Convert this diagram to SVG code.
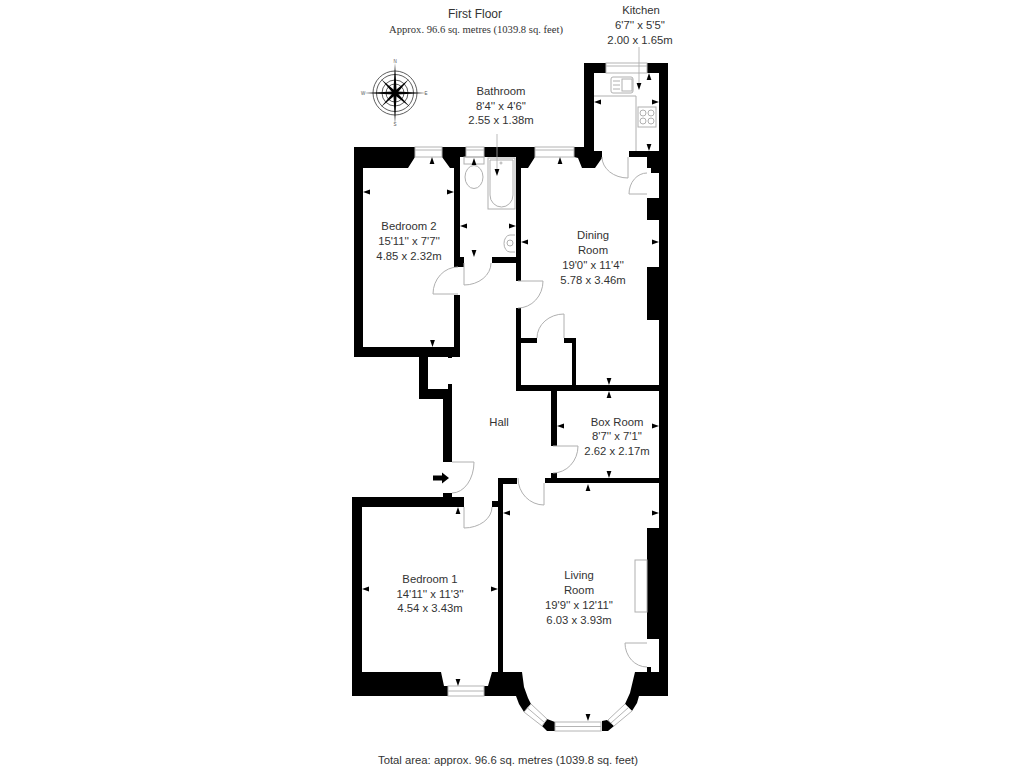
<svg xmlns="http://www.w3.org/2000/svg" xmlns:xlink="http://www.w3.org/1999/xlink" width="1024" height="768" viewBox="0 0 1024 768">
<style>
.l{font-family:"Liberation Sans",Arial,sans-serif;font-size:11.3px;fill:#333;text-anchor:middle}
.t{font-size:12px}
.s{font-family:"Liberation Serif","Times New Roman",serif;font-size:10.6px;fill:#333;text-anchor:middle}
.c{font-family:"Liberation Sans",Arial,sans-serif;font-size:4.5px;fill:#555;text-anchor:middle}
.w{fill:#000}
.g{fill:none;stroke:#b0b0b0;stroke-width:1}
.d{fill:#fff;stroke:#b4b4b4;stroke-width:1}
.k{fill:none;stroke:#333;stroke-width:.8}
.dim{stroke:#aaa;stroke-width:.8;fill:none}
</style>
<defs>
<polygon id="t" points="0,0 2.4,7 -2.4,7" fill="#000"/>
</defs>
<rect width="1024" height="768" fill="#fff"/>

<g id="walls" class="w">
<polygon points="354,147 415,147 415,157 408,168 363,168 363,347 454,347 454,295 460,295 460,357 354,357"/>
<polygon points="442,147 466,147 466,157 460,157 460,257 464,257 464,267 454,267 454,168 450,168 442,157"/>
<polygon points="484,147 535,147 535,157 528,168 521,168 521,281 516,281 516,157 484,157"/>
<rect x="492" y="257" width="24" height="6"/>
<polygon points="584,63 606,63 606,73 594,73 594,151 602,151 602,158 595,168 582,168 578,158 574,157 574,147 584,147"/>
<polygon points="647,63 668,63 668,696 635,696 635,672 647,672 647,667 651,667 651,672 659,672 659,639 647,639 647,528 659,528 659,320 647,320 647,267 659,267 659,220 647,220 647,198 659,198 659,173 651,173 651,168 647,168 647,157 629,157 629,151 659,151 659,73 647,73"/>
<polygon points="516,308 521,308 521,338 537,338 537,343 521,343 521,385 572,385 572,343 564,343 564,338 576,338 576,385 659,385 659,391 557,391 557,446 551,446 551,391 516,391"/>
<polygon points="419,357 428,357 428,389 448,389 448,384 452,384 452,462 443,462 443,399 419,399"/>
<rect x="448" y="353" width="4" height="5"/>
<polygon points="352,497 443,497 443,493 452,493 452,497 464,497 464,507 362,507 362,672 441,672 444,686 448,686 448,696 352,696"/>
<rect x="492" y="501" width="6" height="6"/>
<polygon points="498,478 517,478 517,484 503,484 503,672 522,672 524,687 528,698 531,704 524,712 519,704 516,696 484,696 484,686 488,686 492,672 498,672"/>
<rect x="545" y="478" width="114" height="5"/>
<rect x="551" y="473" width="6" height="5"/>
<polygon points="547,719 555,722 555,731 547,731 542,726"/>
<polygon points="602,721 607,720 614,726 608,731 602,731"/>
<polygon points="625,704 630,693 635,672 639,696 637,703 632,711"/>
</g>

<g id="windows" class="d">
<rect x="415" y="147" width="27" height="10"/><line x1="415" y1="150" x2="442" y2="150"/>
<rect x="466" y="147" width="18" height="10"/><line x1="466" y1="150" x2="484" y2="150"/>
<rect x="535" y="147" width="39" height="10"/><line x1="535" y1="150" x2="574" y2="150"/>
<rect x="606" y="63" width="41" height="10"/><line x1="606" y1="66" x2="647" y2="66"/>
<rect x="448" y="686" width="36" height="10"/><line x1="448" y1="691" x2="484" y2="691"/>
<rect x="555" y="722" width="46" height="9"/><line x1="555" y1="726.5" x2="601" y2="726.5"/>
<polygon points="531,704 524,712 542,726 547,719"/><line x1="527.5" y1="708" x2="544.5" y2="722.5"/>
<polygon points="608,720 614,726 632,711 625,704"/><line x1="611" y1="723" x2="628.5" y2="707.5"/>
</g>

<g id="doors" class="g">
<path d="M458,294H433A25,27 0 0 1 458,267"/>
<path d="M464,263V285A27,22 0 0 0 491,263"/>
<path d="M518,281H543A25,27 0 0 1 518,308"/>
<path d="M564,338V314A27,24 0 0 0 537,338"/>
<path d="M628,157V178A26,21 0 0 1 602,157"/>
<path d="M647,194H629A18,21 0 0 1 647,173"/>
<path d="M452,462H474A22,31 0 0 1 452,493"/>
<path d="M464,507V528A28,21 0 0 0 492,507"/>
<path d="M544,483V505A26,27 0 0 1 518,478"/>
<path d="M553,446H578A25,27 0 0 1 553,473"/>
<path d="M647,643H625A22,24 0 0 0 647,667"/>
<rect x="635" y="560" width="12" height="52"/>
</g>

<g id="fixtures" class="g">
<path d="M594,96H636V151"/>
<rect x="611" y="77" width="22" height="16" rx="2"/>
<rect x="622" y="79" width="10" height="12"/>
<path d="M613,81H620M613,85H620M613,89H620"/>
<rect x="638" y="107" width="18" height="20"/>
<circle cx="643" cy="113" r="3"/><circle cx="651" cy="113" r="3"/><circle cx="643" cy="121" r="3"/><circle cx="651" cy="121" r="3"/>
<rect x="464" y="157" width="20" height="7"/>
<ellipse cx="474" cy="177" rx="9" ry="11.5"/>
<rect x="488" y="158" width="27" height="51"/>
<path d="M490,160H513V195A11.5,12 0 0 1 490,195Z"/>
<circle cx="501" cy="163" r="1"/>
<path d="M515,235H510A6,8.5 0 0 0 510,252H515"/>
<circle cx="510" cy="243" r="3"/>
</g>

<g id="compass">
<g class="k">
<circle cx="395" cy="93" r="22"/>
<circle cx="395" cy="93" r="18.5"/>
<circle cx="395" cy="93" r="13"/>
<circle cx="395" cy="93" r="9"/>
</g>
<polygon points="395,63 396.6,91.4 426,93 396.6,94.6 395,124 393.4,94.6 364,93 393.4,91.4" fill="#000"/>
<polygon points="381,79 396.5,92 410,107 394,94.5" fill="#000"/>
<polygon points="409,79 396.5,94 381,107 393.8,91.8" fill="#000"/>
<text class="c" x="395" y="63">N</text>
<text class="c" x="395" y="126">S</text>
<text class="c" x="363" y="95">W</text>
<text class="c" x="426" y="95">E</text>
</g>

<g id="entrance-arrow">
<polygon points="433,475.5 442,475.5 442,472.5 449,478 442,483.5 442,480.5 433,480.5" fill="#000"/>
</g>

<g id="connectors">
<line class="dim" x1="639" y1="47" x2="639" y2="84"/>
<line class="dim" x1="497" y1="134" x2="497" y2="170"/>
<use xlink:href="#t" href="#t" transform="translate(639,90) rotate(180)"/>
<use xlink:href="#t" href="#t" transform="translate(497,176) rotate(180)"/>
<use xlink:href="#t" href="#t" transform="translate(432,157)"/>
<use xlink:href="#t" href="#t" transform="translate(474,158)"/>
<use xlink:href="#t" href="#t" transform="translate(560,157)"/>
<use xlink:href="#t" href="#t" transform="translate(649,73)"/>
<use xlink:href="#t" href="#t" transform="translate(609,391)"/>
<use xlink:href="#t" href="#t" transform="translate(588,484)"/>
<use xlink:href="#t" href="#t" transform="translate(458,507)"/>
<use xlink:href="#t" href="#t" transform="translate(432.5,347) rotate(180)"/>
<use xlink:href="#t" href="#t" transform="translate(474,257) rotate(180)"/>
<use xlink:href="#t" href="#t" transform="translate(609,385) rotate(180)"/>
<use xlink:href="#t" href="#t" transform="translate(609,478) rotate(180)"/>
<use xlink:href="#t" href="#t" transform="translate(458,686) rotate(180)"/>
<use xlink:href="#t" href="#t" transform="translate(588,721) rotate(180)"/>
<use xlink:href="#t" href="#t" transform="translate(649,151) rotate(180)"/>
<use xlink:href="#t" href="#t" transform="translate(363,192) rotate(-90)"/>
<use xlink:href="#t" href="#t" transform="translate(460,226) rotate(-90)"/>
<use xlink:href="#t" href="#t" transform="translate(521,242) rotate(-90)"/>
<use xlink:href="#t" href="#t" transform="translate(557,426) rotate(-90)"/>
<use xlink:href="#t" href="#t" transform="translate(503,513) rotate(-90)"/>
<use xlink:href="#t" href="#t" transform="translate(362,589) rotate(-90)"/>
<use xlink:href="#t" href="#t" transform="translate(594,102) rotate(-90)"/>
<use xlink:href="#t" href="#t" transform="translate(454,192) rotate(90)"/>
<use xlink:href="#t" href="#t" transform="translate(516,226) rotate(90)"/>
<use xlink:href="#t" href="#t" transform="translate(659,242) rotate(90)"/>
<use xlink:href="#t" href="#t" transform="translate(659,426) rotate(90)"/>
<use xlink:href="#t" href="#t" transform="translate(659,513) rotate(90)"/>
<use xlink:href="#t" href="#t" transform="translate(498,589) rotate(90)"/>
<use xlink:href="#t" href="#t" transform="translate(659,102) rotate(90)"/>
</g>

<g id="labels">
<text class="l t" x="475" y="18">First Floor</text>
<text class="s" x="476" y="33">Approx. 96.6 sq. metres (1039.8 sq. feet)</text>
<g id="kitchen"><text class="l" x="641" y="14">Kitchen</text><text class="l" x="640" y="29">6'7'' x 5'5''</text><text class="l" x="640" y="44">2.00 x 1.65m</text></g>
<g id="bathroom"><text class="l" x="501" y="95">Bathroom</text><text class="l" x="501" y="110">8'4'' x 4'6''</text><text class="l" x="501" y="124">2.55 x 1.38m</text></g>
<g id="bedroom-2"><text class="l" x="409" y="230">Bedroom 2</text><text class="l" x="409" y="245">15'11'' x 7'7''</text><text class="l" x="409" y="260">4.85 x 2.32m</text></g>
<g id="dining-room"><text class="l" x="593" y="239">Dining</text><text class="l" x="593" y="254">Room</text><text class="l" x="593" y="269">19'0'' x 11'4''</text><text class="l" x="593" y="284">5.78 x 3.46m</text></g>
<g id="hall"><text class="l" x="499" y="426">Hall</text></g>
<g id="box-room"><text class="l" x="617" y="426">Box Room</text><text class="l" x="617" y="440">8'7'' x 7'1''</text><text class="l" x="617" y="455">2.62 x 2.17m</text></g>
<g id="bedroom-1"><text class="l" x="430" y="583">Bedroom 1</text><text class="l" x="430" y="598">14'11'' x 11'3''</text><text class="l" x="430" y="612">4.54 x 3.43m</text></g>
<g id="living-room"><text class="l" x="579" y="579">Living</text><text class="l" x="579" y="594">Room</text><text class="l" x="579" y="609">19'9'' x 12'11''</text><text class="l" x="579" y="624">6.03 x 3.93m</text></g>
<text class="l" x="508" y="764">Total area: approx. 96.6 sq. metres (1039.8 sq. feet)</text>
</g>
</svg>
